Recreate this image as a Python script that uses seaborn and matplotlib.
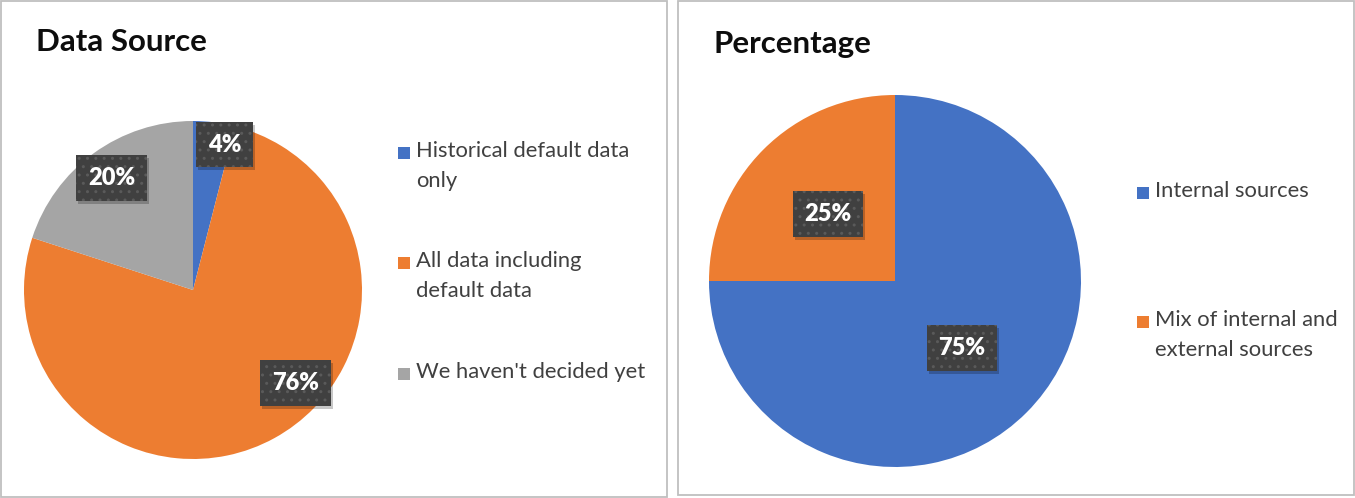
import matplotlib.pyplot as plt
import matplotlib.patheffects as pe
import numpy as np
import seaborn as sns
from matplotlib.patches import Rectangle
from matplotlib.transforms import Affine2D

# chart data
source_labels = ["Historical default data\nonly", "All data including\ndefault data",
                 "We haven't decided yet"]
source_values = [4, 76, 20]
pct_labels = ["Internal sources", "Mix of internal and\nexternal sources"]
pct_values = [75, 25]

colors = ["#4472C4", "#ED7D31", "#A5A5A5"]

W, H = 1355, 498

sns.set_theme(style="white")
plt.rcParams["font.family"] = ["Lato", "DejaVu Sans"]
plt.rcParams["hatch.linewidth"] = 1.0

fig = plt.figure(figsize=(W / 100, H / 100), dpi=100)


class PlainShadow(pe.AbstractPathEffect):
    """Soft offset shadow without the hatch of the patch."""

    def __init__(self, offset=(2, -3), alpha=0.22):
        super().__init__()
        self.dx, self.dy = offset
        self.alpha = alpha

    def draw_path(self, renderer, gc, tpath, affine, rgbFace=None):
        gc0 = renderer.new_gc()
        gc0.copy_properties(gc)
        gc0.set_hatch(None)
        gc0.set_linewidth(0)
        gc0.set_alpha(self.alpha)
        renderer.draw_path(gc0, tpath,
                           affine + Affine2D().translate(self.dx, self.dy),
                           (0, 0, 0))
        gc0.restore()


def px(x, y):
    """Pixel position (from top-left) to figure fraction."""
    return x / W, 1 - y / H


def panel_border(x0, y0, x1, y1):
    fig.add_artist(Rectangle(px(x0, y1), (x1 - x0) / W, (y1 - y0) / H,
                             transform=fig.transFigure, fill=False,
                             edgecolor="#BFBFBF", linewidth=1.3))


def draw_pie(rect, values, label_r, label_shift):
    ax = fig.add_axes(rect)
    wedges, _ = ax.pie(values, colors=colors[:len(values)], startangle=90,
                       counterclock=False, radius=1,
                       wedgeprops=dict(linewidth=0))
    ax.set_xlim(-1, 1)
    ax.set_ylim(-1, 1)
    ax.set_aspect("equal")
    ax.axis("off")
    total = sum(values)
    for w, v, r, s in zip(wedges, values, label_r, label_shift):
        ang = np.deg2rad((w.theta1 + w.theta2) / 2 + s)
        t = ax.text(r * np.cos(ang), r * np.sin(ang), f"{v / total:.0%}",
                    ha="center", va="center", color="white",
                    fontsize=17, fontweight="heavy",
                    bbox=dict(boxstyle="square,pad=0.5", facecolor="#404040",
                              edgecolor="#5A5A5A", linewidth=0, hatch=".."))
        t.get_bbox_patch().set_path_effects([PlainShadow(), pe.Normal()])
    return ax


def draw_legend(x, ys, labels):
    for y, lab, c in zip(ys, labels, colors):
        fig.add_artist(Rectangle(px(x, y + 6), 12 / W, 12 / H,
                                 transform=fig.transFigure, facecolor=c,
                                 edgecolor="none"))
        fig.text(*px(x + 18, y - 12), lab, ha="left", va="top",
                 fontsize=15.8, color="#404040", linespacing=1.62)


# left panel
panel_border(1, 1, 667, 497)
fig.text(*px(36, 42), "Data Source", fontsize=22.5, fontweight="bold",
         color="#0D0D0D", ha="left", va="center")
draw_pie([24 / W, (H - 459) / H, 338 / W, 338 / H], source_values,
         label_r=[0.88, 0.82, 0.82], label_shift=[-5, 19, 0])
draw_legend(398, [153, 263, 374], source_labels)

# right panel
panel_border(678, 1, 1354, 495)
fig.text(*px(713, 44), "Percentage", fontsize=22.5, fontweight="bold",
         color="#0D0D0D", ha="left", va="center")
draw_pie([709 / W, (H - 467) / H, 372 / W, 372 / H], pct_values,
         label_r=[0.51, 0.51], label_shift=[0, 0])
draw_legend(1137, [193, 322], pct_labels)

fig.savefig("out.png", dpi=100)
